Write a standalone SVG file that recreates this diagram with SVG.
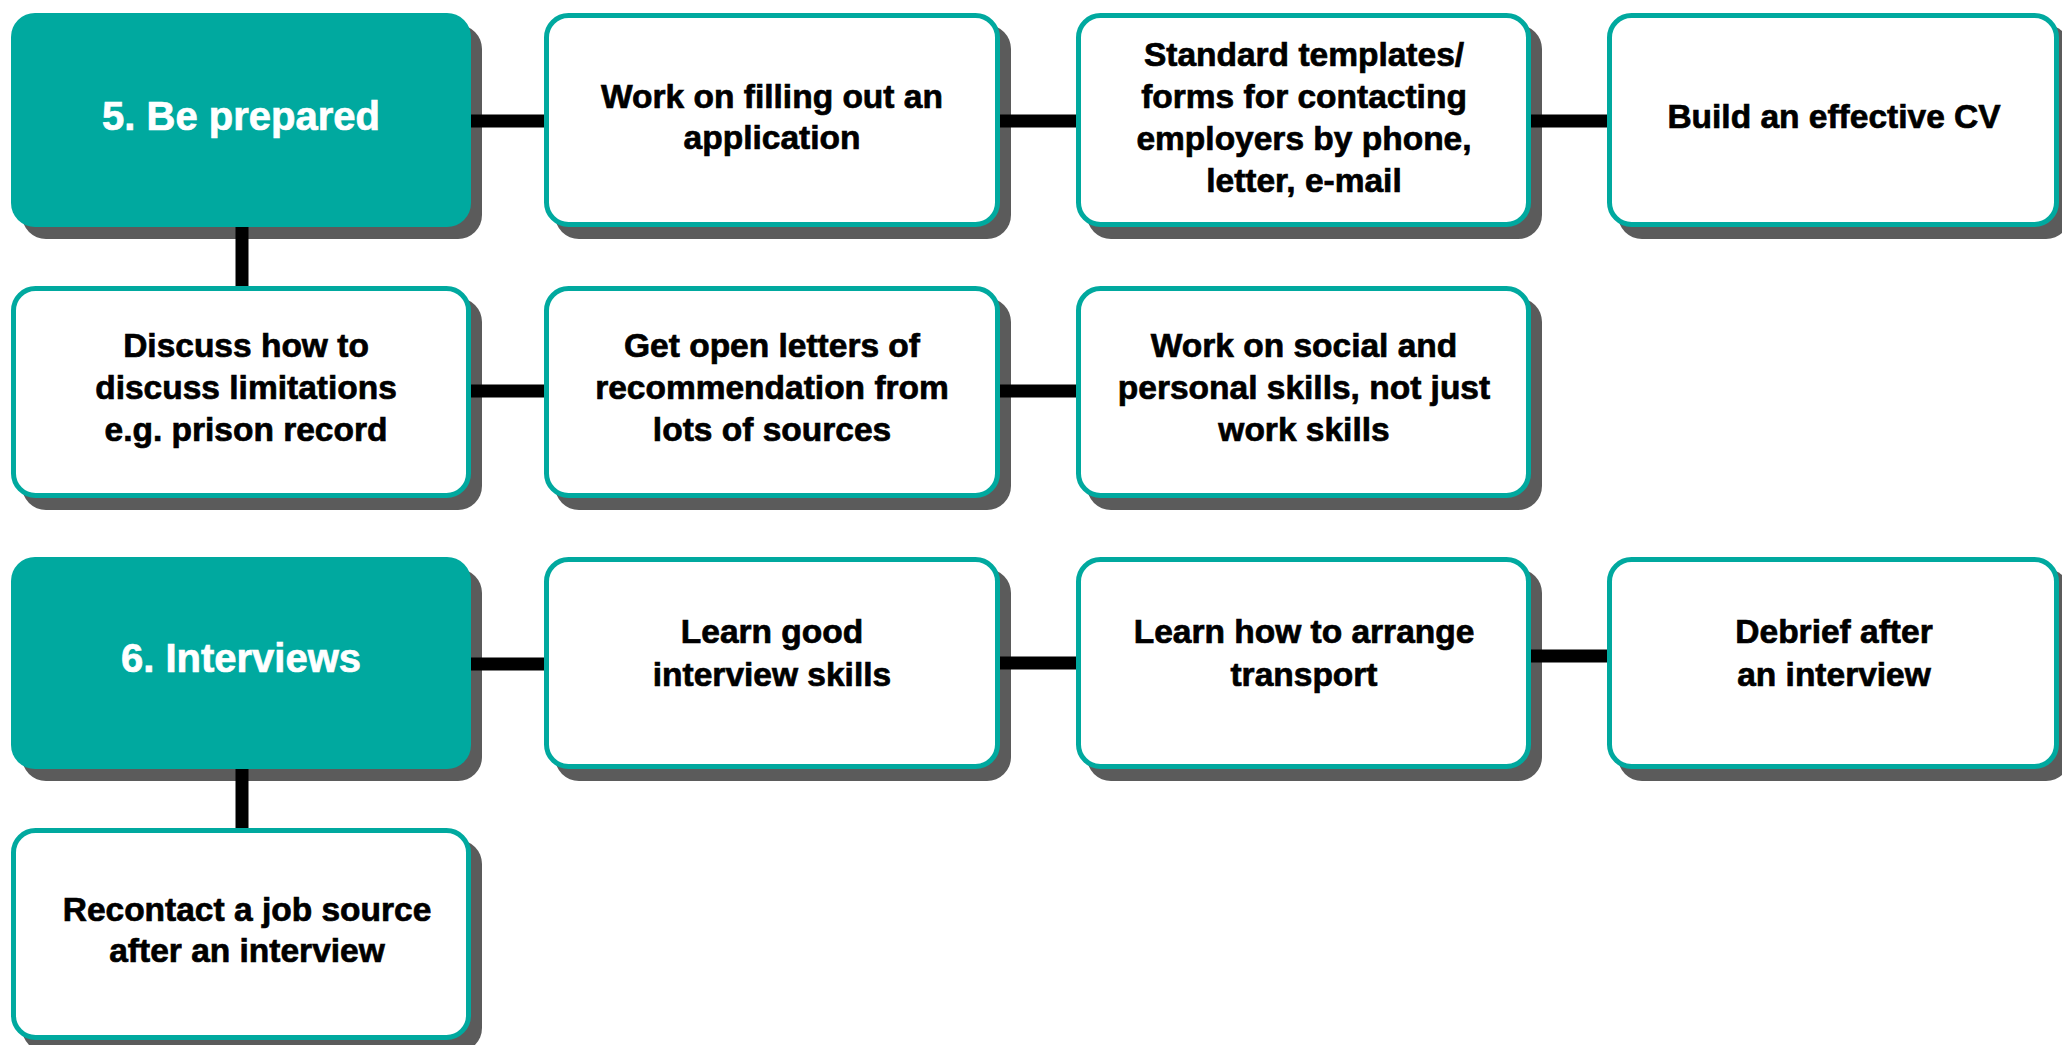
<svg xmlns="http://www.w3.org/2000/svg" width="2062" height="1045" viewBox="0 0 2062 1045">
<style>
.sh{fill:#5b5b5b}
.box{fill:#ffffff;stroke:#00a99f;stroke-width:5}
.hub{fill:#00a99f}
.t{font-family:"Liberation Sans",Arial,sans-serif;font-weight:bold;font-size:33.5px;text-anchor:middle;fill:#000000;stroke:#000000;stroke-width:0.7}
.th{font-size:40px;fill:#ffffff;stroke:#ffffff}
.c{stroke:#000000;stroke-width:13;fill:none}
</style>
<rect width="2062" height="1045" fill="#ffffff"/>
<g id="n-be-prepared">
<rect class="sh" x="22" y="25" width="460" height="214" rx="24"/>
<rect class="hub" x="11" y="13" width="460" height="214" rx="24"/>
<text class="t th" x="241" y="130">5. Be prepared</text>
</g>
<g id="n-application">
<rect class="sh" x="555" y="25" width="456" height="214" rx="24"/>
<rect class="box" x="546.5" y="15.5" width="451" height="209" rx="22"/>
<text class="t" x="772" y="108">Work on filling out an</text>
<text class="t" x="772" y="149">application</text>
</g>
<g id="n-templates">
<rect class="sh" x="1087" y="25" width="455" height="214" rx="24"/>
<rect class="box" x="1078.5" y="15.5" width="450" height="209" rx="22"/>
<text class="t" x="1304" y="66">Standard templates/</text>
<text class="t" x="1304" y="108">forms for contacting</text>
<text class="t" x="1304" y="150">employers by phone,</text>
<text class="t" x="1304" y="192">letter, e-mail</text>
</g>
<g id="n-cv">
<rect class="sh" x="1618" y="25" width="452" height="214" rx="24"/>
<rect class="box" x="1609.5" y="15.5" width="447" height="209" rx="22"/>
<text class="t" x="1834" y="128">Build an effective CV</text>
</g>
<g id="n-limitations">
<rect class="sh" x="22" y="298" width="460" height="212" rx="24"/>
<rect class="box" x="13.5" y="288.5" width="455" height="207" rx="22"/>
<text class="t" x="246" y="357">Discuss how to</text>
<text class="t" x="246" y="399">discuss limitations</text>
<text class="t" x="246" y="441">e.g. prison record</text>
</g>
<g id="n-letters">
<rect class="sh" x="555" y="298" width="456" height="212" rx="24"/>
<rect class="box" x="546.5" y="288.5" width="451" height="207" rx="22"/>
<text class="t" x="772" y="357">Get open letters of</text>
<text class="t" x="772" y="399">recommendation from</text>
<text class="t" x="772" y="441">lots of sources</text>
</g>
<g id="n-social">
<rect class="sh" x="1087" y="298" width="455" height="212" rx="24"/>
<rect class="box" x="1078.5" y="288.5" width="450" height="207" rx="22"/>
<text class="t" x="1304" y="357">Work on social and</text>
<text class="t" x="1304" y="399">personal skills, not just</text>
<text class="t" x="1304" y="441">work skills</text>
</g>
<g id="n-interviews">
<rect class="sh" x="22" y="569" width="460" height="212" rx="24"/>
<rect class="hub" x="11" y="557" width="460" height="212" rx="24"/>
<text class="t th" x="241" y="672">6. Interviews</text>
</g>
<g id="n-skills">
<rect class="sh" x="555" y="569" width="456" height="212" rx="24"/>
<rect class="box" x="546.5" y="559.5" width="451" height="207" rx="22"/>
<text class="t" x="772" y="643">Learn good</text>
<text class="t" x="772" y="686">interview skills</text>
</g>
<g id="n-transport">
<rect class="sh" x="1087" y="569" width="455" height="212" rx="24"/>
<rect class="box" x="1078.5" y="559.5" width="450" height="207" rx="22"/>
<text class="t" x="1304" y="643">Learn how to arrange</text>
<text class="t" x="1304" y="686">transport</text>
</g>
<g id="n-debrief">
<rect class="sh" x="1618" y="569" width="452" height="212" rx="24"/>
<rect class="box" x="1609.5" y="559.5" width="447" height="207" rx="22"/>
<text class="t" x="1834" y="643">Debrief after</text>
<text class="t" x="1834" y="686">an interview</text>
</g>
<g id="n-recontact">
<rect class="sh" x="22" y="840" width="460" height="212" rx="24"/>
<rect class="box" x="13.5" y="830.5" width="455" height="207" rx="22"/>
<text class="t" x="247" y="921">Recontact a job source</text>
<text class="t" x="247" y="962">after an interview</text>
</g>
<g id="connectors">
<line class="c" x1="471" y1="121" x2="544" y2="121"/>
<line class="c" x1="1000" y1="121" x2="1076" y2="121"/>
<line class="c" x1="1531" y1="121" x2="1607" y2="121"/>
<line class="c" x1="242" y1="227" x2="242" y2="286"/>
<line class="c" x1="471" y1="391" x2="544" y2="391"/>
<line class="c" x1="1000" y1="391" x2="1076" y2="391"/>
<line class="c" x1="471" y1="664" x2="544" y2="664"/>
<line class="c" x1="1000" y1="663" x2="1076" y2="663"/>
<line class="c" x1="1531" y1="656" x2="1607" y2="656"/>
<line class="c" x1="242" y1="769" x2="242" y2="828"/>
</g>
</svg>
